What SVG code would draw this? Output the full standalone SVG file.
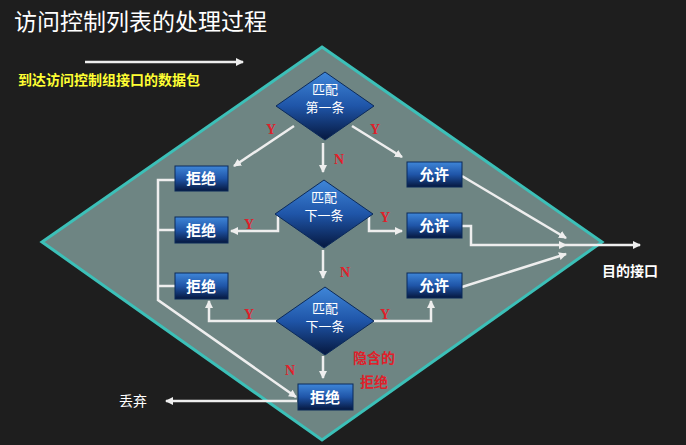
<svg xmlns="http://www.w3.org/2000/svg" width="686" height="445" viewBox="0 0 686 445">
<defs>
<linearGradient id="g" x1="0" y1="0" x2="0" y2="1"><stop offset="0" stop-color="#3f86d8"/><stop offset="0.5" stop-color="#1f55a8"/><stop offset="1" stop-color="#06183f"/></linearGradient>
<marker id="a" markerWidth="8" markerHeight="8" refX="7" refY="4" orient="auto" markerUnits="userSpaceOnUse"><path d="M0,0 L8,4 L0,8 z" fill="#eeeeee"/></marker>
<style>
.b{fill:url(#g);stroke:#0b2a5a;stroke-width:1}
.t{font-family:"Noto Sans CJK SC",sans-serif;fill:#fff;font-size:15px;text-anchor:middle;font-weight:bold}
.d{font-family:"Noto Sans CJK SC",sans-serif;fill:#fff;font-size:13px;text-anchor:middle}
.c{fill:none;stroke:#eeeeee;stroke-width:2.5}
.y{font-family:"Liberation Serif",serif;fill:#e0202a;font-size:14px;font-weight:bold;text-anchor:middle}
</style>
</defs>
<rect width="686" height="445" fill="#1e1e1e"/>
<polygon points="322,47 602,242 322,440 42,242" fill="#6e8583" stroke="#3cc0b8" stroke-width="3"/>
<text x="14" y="30" font-family="Noto Sans CJK SC,sans-serif" font-size="23" fill="#fff">访问控制列表的处理过程</text>
<text x="18" y="85" font-family="Noto Sans CJK SC,sans-serif" font-size="14" font-weight="bold" fill="#ffff33">到达访问控制组接口的数据包</text>
<g id="connectors">
<path class="c" d="M85,62 H243" marker-end="url(#a)"/>
<path class="c" d="M294,126 L234,166" marker-end="url(#a)"/>
<path class="c" d="M352,126 L402,157" marker-end="url(#a)"/>
<path class="c" d="M323,143 V172" marker-end="url(#a)"/>
<path class="c" d="M278,216 V231 H231" marker-end="url(#a)"/>
<path class="c" d="M369,216 V231 H402" marker-end="url(#a)"/>
<path class="c" d="M323,250 V278" marker-end="url(#a)"/>
<path class="c" d="M277,321 H209 V301" marker-end="url(#a)"/>
<path class="c" d="M373,321 H431 V301" marker-end="url(#a)"/>
<path class="c" d="M323,356 V378" marker-end="url(#a)"/>
<path class="c" d="M175,180 H158 V300 L296,397" marker-end="url(#a)"/>
<path class="c" d="M158,230 H175 M158,286 H175"/>
<path class="c" d="M297,401 H166" marker-end="url(#a)"/>
<path class="c" d="M462,176 L566,238" marker-end="url(#a)"/>
<path class="c" d="M462,226 H471 V245 H566" marker-end="url(#a)"/>
<path class="c" d="M462,287 L566,254" marker-end="url(#a)"/>
<path class="c" d="M566,245 H640" marker-end="url(#a)"/>
</g>
<g id="labels">
<text class="y" x="271" y="134">Y</text><text class="y" x="375" y="134">Y</text>
<text class="y" x="339" y="164">N</text>
<text class="y" x="249" y="229">Y</text><text class="y" x="385" y="222">Y</text>
<text class="y" x="345" y="277">N</text>
<text class="y" x="249" y="319">Y</text><text class="y" x="385" y="319">Y</text>
<text class="y" x="290" y="375">N</text>
</g>
<g id="d1"><polygon class="b" points="325,72 374,106 325,140 276,106"/><text class="d" x="325" y="94">匹配</text><text class="d" x="325" y="112">第一条</text></g>
<g id="d2"><polygon class="b" points="324,180 373,214 324,248 275,214"/><text class="d" x="324" y="202">匹配</text><text class="d" x="324" y="220">下一条</text></g>
<g id="d3"><polygon class="b" points="325,287 374,321 325,355 276,321"/><text class="d" x="325" y="313">匹配</text><text class="d" x="325" y="331">下一条</text></g>
<g id="r1"><rect class="b" x="175" y="166" width="53" height="25"/><text class="t" x="201" y="184">拒绝</text></g>
<g id="r2"><rect class="b" x="175" y="217" width="53" height="26"/><text class="t" x="201" y="236">拒绝</text></g>
<g id="r3"><rect class="b" x="175" y="273" width="53" height="26"/><text class="t" x="201" y="292">拒绝</text></g>
<g id="p1"><rect class="b" x="407" y="162" width="55" height="25"/><text class="t" x="434" y="180">允许</text></g>
<g id="p2"><rect class="b" x="407" y="213" width="55" height="25"/><text class="t" x="434" y="231">允许</text></g>
<g id="p3"><rect class="b" x="407" y="273" width="55" height="25"/><text class="t" x="434" y="291">允许</text></g>
<g id="r4"><rect class="b" x="298" y="384" width="55" height="26"/><text class="t" x="325" y="403">拒绝</text></g>
<text x="630" y="276" font-family="Noto Sans CJK SC,sans-serif" font-size="14" font-weight="bold" fill="#fff" text-anchor="middle">目的接口</text>
<text x="133" y="406" font-family="Noto Sans CJK SC,sans-serif" font-size="14" fill="#fff" text-anchor="middle">丢弃</text>
<text x="374" y="363" font-family="Noto Sans CJK SC,sans-serif" font-size="14" font-weight="bold" fill="#e0202a" text-anchor="middle">隐含的</text>
<text x="374" y="387" font-family="Noto Sans CJK SC,sans-serif" font-size="14" font-weight="bold" fill="#e0202a" text-anchor="middle">拒绝</text>
</svg>
